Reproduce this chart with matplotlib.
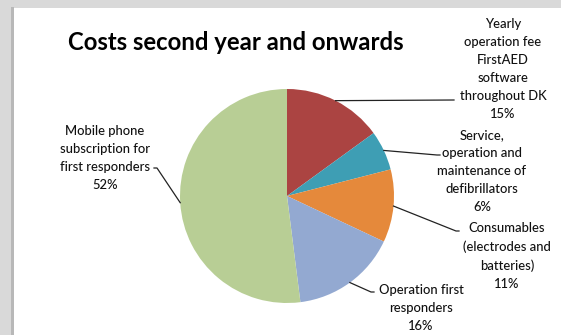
import matplotlib.pyplot as plt
import numpy as np
from matplotlib.patches import Rectangle

# Data
labels = ["Yearly\noperation fee\nFirstAED\nsoftware\nthroughout DK",
          "Service,\noperation and\nmaintenance of\ndefibrillators",
          "Consumables\n(electrodes and\nbatteries)",
          "Operation first\nresponders",
          "Mobile phone\nsubscription for\nfirst responders"]
shares = [15, 6, 11, 16, 52]
colors = ["#AB4442", "#3E9EB4", "#E5893B", "#93A9D1", "#B8CE95"]
title = "Costs second year and onwards"

# label centers and leader line ends, in pixel coords (y from top)
label_pos = [(503, 69), (482, 171), (507, 256), (421, 308), (105, 158)]
leader_end = [(454, 100), (437, 155), (456, 231), (371, 292), (157, 168)]
tick_dir = [0, 1, 1, 1, -1]

plt.rcParams['font.family'] = ['Lato', 'DejaVu Sans']

W, H = 561, 335
fig = plt.figure(figsize=(W / 100, H / 100), dpi=100)
fig.patch.set_facecolor("#d9d9d9")
fig.patches.append(Rectangle((11 / W, 0), 3 / W, (H - 7) / H, transform=fig.transFigure,
                             facecolor="#b8b8b8", edgecolor="none", zorder=-10))
fig.patches.append(Rectangle((14 / W, 0), (W - 14) / W, (H - 8) / H, transform=fig.transFigure,
                             facecolor="white", edgecolor="none", zorder=-10))

ax = fig.add_axes([0, 0, 1, 1])
ax.patch.set_alpha(0)

cx, cy, r = 287, H - 196, 107
wedges, _ = ax.pie(shares, colors=colors, startangle=90, counterclock=False,
                   center=(cx, cy), radius=r, frame=True,
                   wedgeprops=dict(linewidth=0))
ax.set_xlim(0, W)
ax.set_ylim(0, H)
ax.set_aspect("equal")
ax.axis("off")

for w, lab, s, (tx, ty), (ex, ey), d in zip(wedges, labels, shares, label_pos, leader_end, tick_dir):
    mid = np.deg2rad((w.theta1 + w.theta2) / 2)
    sx = cx + r * np.cos(mid)
    sy = cy + r * np.sin(mid)
    ey = H - ey
    xs = [sx, ex]
    ys = [sy, ey]
    if d != 0:
        xs.append(ex + 3 * d)
        ys.append(ey)
    ax.plot(xs, ys, color="#222222", linewidth=0.9)
    ax.text(tx, H - ty, f"{lab}\n{s}%", ha="center", va="center", fontsize=9.4,
            linespacing=1.6, color="#111111", fontweight="medium")

ax.text(236, H - 42, title, ha="center", va="center", fontsize=17.2,
        fontweight="bold", color="black")

fig.savefig("out.png", dpi=100, facecolor=fig.get_facecolor())
